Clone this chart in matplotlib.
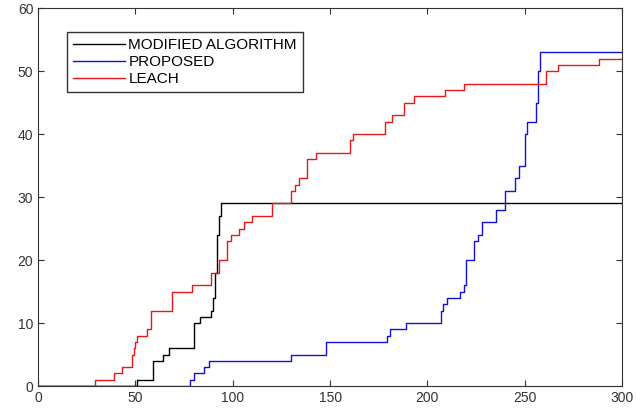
import numpy as np
import matplotlib
matplotlib.use('Agg')
import matplotlib.pyplot as plt

# step change points (round, value)
mod_x = [0, 51, 59, 64, 67, 80, 83, 89, 90, 91, 92, 93, 94, 300]
mod_y = [0, 1, 4, 5, 6, 10, 11, 12, 14, 18, 24, 27, 29, 29]

prop_x = [0, 78, 80, 85, 88, 130, 148, 179, 181, 189, 207, 208, 210, 217, 219, 220,
          224, 226, 228, 235, 240, 245, 247, 250, 251, 256, 257, 258, 300]
prop_y = [0, 1, 2, 3, 4, 5, 7, 8, 9, 10, 12, 13, 14, 15, 16, 20,
          23, 24, 26, 28, 31, 33, 35, 40, 42, 45, 50, 53, 53]

leach_x = [0, 29, 39, 41, 43, 48, 49, 50, 51, 56, 58, 69, 79, 89, 93, 97, 99, 103,
           106, 110, 120, 130, 132, 134, 138, 143, 160, 162, 178, 180, 182, 188,
           193, 209, 219, 261, 263, 267, 288, 300]
leach_y = [0, 1, 2, 2, 3, 5, 6, 7, 8, 9, 12, 15, 16, 18, 20, 23, 24, 25,
           26, 27, 29, 31, 32, 33, 36, 37, 39, 40, 42, 42, 43, 45,
           46, 47, 48, 50, 50, 51, 52, 52]

labels = ['MODIFIED ALGORITHM', 'PROPOSED', 'LEACH']

plt.rcParams['font.family'] = ['Liberation Sans', 'DejaVu Sans']

fig = plt.figure(figsize=(6.36, 4.09), dpi=100)
ax = fig.add_axes([0.06, 0.056, 0.918, 0.924])

ax.plot(mod_x, mod_y, drawstyle='steps-post', color='black', lw=1, label=labels[0])
ax.plot(prop_x, prop_y, drawstyle='steps-post', color='#1010e0', lw=1, label=labels[1])
ax.plot(leach_x, leach_y, drawstyle='steps-post', color='#e81818', lw=1, label=labels[2])

ax.set_xlim(0, 300)
ax.set_ylim(0, 60)
ax.set_xticks(np.arange(0, 301, 50))
ax.set_yticks(np.arange(0, 61, 10))
ax.tick_params(direction='in', top=True, right=True, labelsize=10, length=4,
               colors='#333333')
for s in ax.spines.values():
    s.set_color('#333333')

leg = ax.legend(loc='upper left', bbox_to_anchor=(0.05, 0.937), fontsize=11,
                fancybox=False, framealpha=1, edgecolor='#333333',
                handlelength=3.4, handletextpad=0.2, borderpad=0.4,
                labelspacing=0.2, borderaxespad=0)
leg.get_frame().set_linewidth(1)

fig.savefig('out.png', dpi=100)
